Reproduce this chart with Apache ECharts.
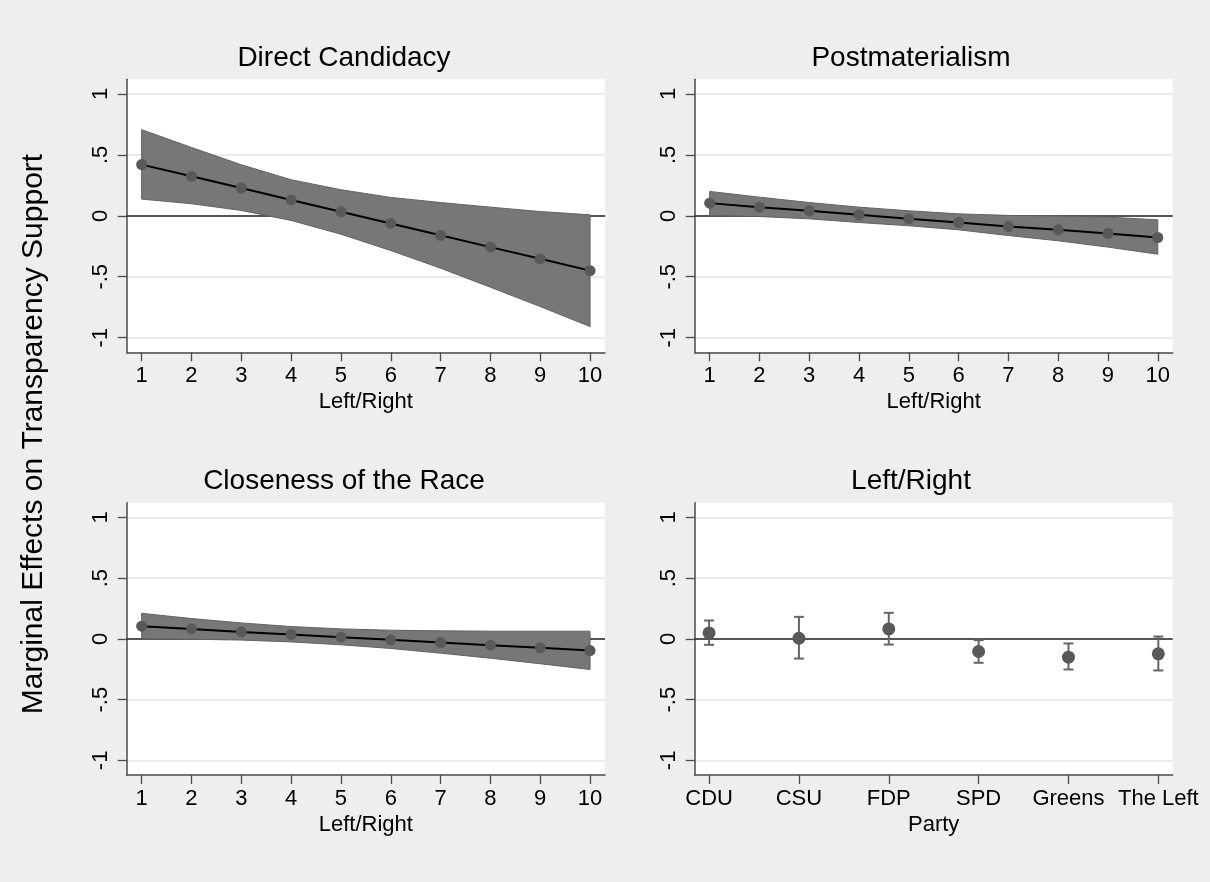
<!DOCTYPE html>
<html><head><meta charset="utf-8">
<script src="https://cdn.jsdelivr.net/npm/echarts@6/dist/echarts.min.js"></script>
<style>html,body{margin:0;padding:0;background:#eeeeee}#c{width:1210px;height:882px}</style>
</head><body><div id="c"></div>
<script>
// ---- data ----
const leftRight = [1, 2, 3, 4, 5, 6, 7, 8, 9, 10];
const xTickLabels = ['1', '2', '3', '4', '5', '6', '7', '8', '9', '10'];
const yTickValues = [-1, -0.5, 0, 0.5, 1];
const yTickLabels = ['-1', '-.5', '0', '.5', '1'];

const directEst = [0.42, 0.325, 0.228, 0.13, 0.033, -0.063, -0.16, -0.257, -0.353, -0.45];
const directLo  = [0.137, 0.099, 0.044, -0.038, -0.151, -0.285, -0.43, -0.586, -0.745, -0.909];
const directHi  = [0.707, 0.561, 0.419, 0.296, 0.214, 0.151, 0.109, 0.071, 0.035, 0.008];

const postEst = [0.104, 0.071, 0.041, 0.008, -0.025, -0.055, -0.088, -0.115, -0.145, -0.178];
const postLo  = [0.004, -0.006, -0.025, -0.055, -0.082, -0.115, -0.162, -0.205, -0.257, -0.315];
const postHi  = [0.2, 0.153, 0.109, 0.071, 0.041, 0.016, 0.003, -0.002, -0.011, -0.033];

const closeEst = [0.104, 0.082, 0.057, 0.036, 0.014, -0.008, -0.03, -0.052, -0.074, -0.096];
const closeLo  = [0.0, -0.003, -0.01, -0.025, -0.049, -0.079, -0.118, -0.159, -0.205, -0.252];
const closeHi  = [0.21, 0.167, 0.131, 0.101, 0.082, 0.071, 0.066, 0.063, 0.063, 0.063];

const parties   = ['CDU', 'CSU', 'FDP', 'SPD', 'Greens', 'The Left'];
const partyPos  = [1, 2, 3, 4, 5, 6];
const partyEst  = [0.049, 0.005, 0.082, -0.104, -0.151, -0.123];
const partyLo   = [-0.049, -0.162, -0.047, -0.197, -0.252, -0.26];
const partyHi   = [0.151, 0.181, 0.214, -0.011, -0.038, 0.019];

const panelTitles = ['Direct Candidacy', 'Postmaterialism', 'Closeness of the Race', 'Left/Right'];
const xAxisNames  = ['Left/Right', 'Left/Right', 'Left/Right', 'Party'];
const yAxisTitle  = 'Marginal Effects on Transparency Support';

// ---- layout / style ----
const FONT = 'Liberation Sans, Arial, sans-serif';
const grids = [
  { left: 126.7, top: 79.3, width: 478.3, height: 273 },
  { left: 694.7, top: 79.3, width: 478, height: 273 },
  { left: 126.7, top: 502.7, width: 478.3, height: 272.3 },
  { left: 694.7, top: 502.7, width: 478, height: 272.3 }
];
const titlePos = [[344, 58], [911, 58], [344, 481], [911, 481]];
const axisColor = '#4a4a4a';

function yAxisFor(i) {
  return {
    type: 'value', gridIndex: i, min: -1.12, max: 1.12,
    axisLine: { show: true, lineStyle: { color: axisColor, width: 1.5 } },
    axisTick: { show: true, length: 9, customValues: yTickValues, lineStyle: { color: axisColor, width: 1.3 } },
    axisLabel: {
      customValues: yTickValues, rotate: 90, margin: 15, color: '#000',
      fontFamily: FONT, fontSize: 22,
      formatter: v => yTickLabels[yTickValues.indexOf(Math.round(v * 2) / 2)]
    },
    splitLine: { show: true, lineStyle: { color: '#e4e4e4', width: 1.5 } }
  };
}
function xAxisFor(i, min, max, ticks, labels) {
  return {
    type: 'value', gridIndex: i, min: min, max: max,
    name: xAxisNames[i], nameLocation: 'middle', nameGap: 39,
    nameTextStyle: { fontFamily: FONT, fontSize: 22, color: '#000' },
    axisLine: { show: true, onZero: false, lineStyle: { color: axisColor, width: 1.5 } },
    axisTick: { show: true, length: 9, customValues: ticks, lineStyle: { color: axisColor, width: 1.3 } },
    axisLabel: {
      customValues: ticks, margin: 13, color: '#000', fontFamily: FONT, fontSize: 22,
      formatter: v => labels[ticks.indexOf(Math.round(v))]
    },
    splitLine: { show: false }
  };
}

function zeroLine(i) {
  return {
    type: 'line', xAxisIndex: i, yAxisIndex: i, silent: true, z: 1, data: [],
    markLine: {
      silent: true, symbol: 'none', z: 1, label: { show: false },
      lineStyle: { color: '#222', width: 1.6, type: 'solid' },
      data: [{ yAxis: 0 }]
    }
  };
}

function bandSeries(i, est, lo, hi) {
  return [
    zeroLine(i),
    {
      type: 'custom', xAxisIndex: i, yAxisIndex: i, silent: true, z: 2,
      encode: { x: 0, y: [1, 2] },
      data: leftRight.map((x, k) => [x, lo[k], hi[k]]),
      renderItem: function (params, api) {
        if (params.dataIndexInside !== 0) return null;
        const n = leftRight.length;
        const top = [], bot = [];
        for (let k = 0; k < n; k++) {
          const x = api.value(0, k);
          bot.push(api.coord([x, api.value(1, k)]));
          top.push(api.coord([x, api.value(2, k)]));
        }
        const pts = top.concat(bot.reverse());
        return {
          type: 'polygon', shape: { points: pts },
          style: { fill: '#777777', stroke: '#626262', lineWidth: 1 }
        };
      }
    },
    {
      type: 'line', xAxisIndex: i, yAxisIndex: i, z: 4, silent: true,
      symbol: 'circle', symbolSize: 11, showAllSymbol: true,
      itemStyle: { color: '#595959' },
      lineStyle: { color: '#000', width: 2 },
      data: leftRight.map((x, k) => [x, est[k]])
    }
  ];
}

const option = {
  backgroundColor: '#eeeeee',
  animation: false,
  grid: grids.map(g => Object.assign({ backgroundColor: '#ffffff', show: true, borderWidth: 0 }, g)),
  xAxis: [
    xAxisFor(0, 0.7, 10.3, leftRight, xTickLabels),
    xAxisFor(1, 0.7, 10.3, leftRight, xTickLabels),
    xAxisFor(2, 0.7, 10.3, leftRight, xTickLabels),
    xAxisFor(3, 0.84, 6.16, partyPos, parties)
  ],
  yAxis: [yAxisFor(0), yAxisFor(1), yAxisFor(2), yAxisFor(3)],
  graphic: panelTitles.map((t, i) => ({
    type: 'text', x: titlePos[i][0], y: titlePos[i][1], silent: true,
    style: { text: t, fontFamily: FONT, fontSize: 28, fill: '#000', align: 'center', verticalAlign: 'middle' }
  })).concat([{
    type: 'text', x: 34, y: 434, rotation: Math.PI / 2, silent: true,
    style: { text: yAxisTitle, fontFamily: FONT, fontSize: 30, fill: '#000', align: 'center', verticalAlign: 'middle' }
  }]),
  series: [].concat(
    bandSeries(0, directEst, directLo, directHi),
    bandSeries(1, postEst, postLo, postHi),
    bandSeries(2, closeEst, closeLo, closeHi),
    [
      zeroLine(3),
      {
        type: 'custom', xAxisIndex: 3, yAxisIndex: 3, silent: true, z: 3,
        encode: { x: 0, y: [1, 2] },
        data: partyPos.map((p, k) => [p, partyLo[k], partyHi[k]]),
        renderItem: function (params, api) {
          const x = api.value(0);
          const a = api.coord([x, api.value(1)]);
          const b = api.coord([x, api.value(2)]);
          const w = 5;
          const st = { stroke: '#656565', lineWidth: 2 };
          return {
            type: 'group', children: [
              { type: 'line', shape: { x1: a[0], y1: a[1], x2: b[0], y2: b[1] }, style: st },
              { type: 'line', shape: { x1: a[0] - w, y1: a[1], x2: a[0] + w, y2: a[1] }, style: st },
              { type: 'line', shape: { x1: b[0] - w, y1: b[1], x2: b[0] + w, y2: b[1] }, style: st }
            ]
          };
        }
      },
      {
        type: 'scatter', xAxisIndex: 3, yAxisIndex: 3, silent: true, z: 4,
        symbol: 'circle', symbolSize: 13, itemStyle: { color: '#595959', opacity: 1 },
        data: partyPos.map((p, k) => [p, partyEst[k]])
      }
    ]
  )
};
const chart = echarts.init(document.getElementById('c'), null, { renderer: 'canvas' });
chart.setOption(option);
</script>
</body></html>
